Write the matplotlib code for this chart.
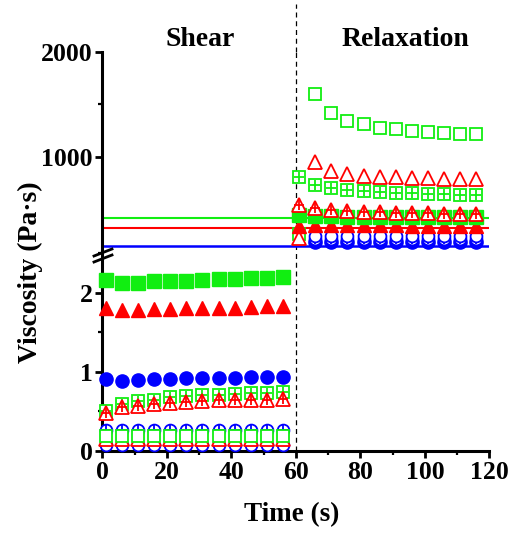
import numpy as np
import matplotlib
matplotlib.use("Agg")
import matplotlib.pyplot as plt
from matplotlib.lines import Line2D
from matplotlib.ticker import MultipleLocator

plt.rcParams['font.family'] = ['Liberation Serif', 'DejaVu Serif']
plt.rcParams['font.weight'] = 'bold'

# time points (s)
t_shear = [1, 6, 11, 16, 21, 26, 31, 36, 41, 46, 51, 56]
t_relax = [61, 66, 71, 76, 81, 86, 91, 96, 101, 106, 111, 116]

# shear phase viscosity (Pa·s), lower axis
shear_blue_fill = [0.91, 0.89, 0.90, 0.91, 0.91, 0.92, 0.92, 0.92, 0.92, 0.93, 0.93, 0.93]
shear_blue_open = [0.08, 0.08, 0.08, 0.08, 0.08, 0.08, 0.08, 0.08, 0.08, 0.08, 0.08, 0.08]
shear_blue_plus = [0.26, 0.26, 0.27, 0.27, 0.27, 0.27, 0.27, 0.27, 0.27, 0.27, 0.27, 0.27]
shear_red_fill = [1.80, 1.78, 1.78, 1.79, 1.79, 1.80, 1.80, 1.81, 1.81, 1.82, 1.83, 1.83]
shear_red_open = [0.15, 0.15, 0.15, 0.15, 0.15, 0.15, 0.15, 0.15, 0.15, 0.15, 0.15, 0.15]
shear_red_plus = [0.48, 0.55, 0.57, 0.59, 0.61, 0.62, 0.63, 0.64, 0.64, 0.65, 0.65, 0.66]
shear_green_fill = [2.16, 2.12, 2.12, 2.15, 2.15, 2.15, 2.16, 2.17, 2.17, 2.18, 2.18, 2.20]
shear_green_open = [0.19, 0.19, 0.19, 0.19, 0.19, 0.19, 0.19, 0.19, 0.19, 0.19, 0.19, 0.19]
shear_green_plus = [0.51, 0.59, 0.63, 0.65, 0.68, 0.69, 0.71, 0.71, 0.72, 0.73, 0.73, 0.75]

# relaxation phase viscosity (Pa·s), upper axis
relax_blue_fill = [np.nan, 190, 190, 190, 190, 190, 190, 190, 190, 190, 190, 190]
relax_blue_open = [np.nan, 245, 245, 245, 245, 245, 245, 245, 245, 245, 245, 245]
relax_blue_plus = [np.nan, 215, 215, 215, 215, 215, 215, 215, 215, 215, 215, 215]
relax_red_fill = [340, 348, 348, 347, 347, 346, 346, 345, 345, 345, 345, 345]
relax_red_open = [225, 953, 864, 832, 816, 810, 804, 800, 794, 791, 788, 785]
relax_red_plus = [540, 509, 492, 483, 478, 470, 465, 462, 460, 458, 456, 455]
relax_green_fill = [445, 438, 432, 430, 428, 427, 426, 425, 425, 424, 424, 423]
relax_green_open = [265, 1597, 1413, 1340, 1308, 1276, 1267, 1248, 1238, 1229, 1219, 1219]
relax_green_plus = [810, 730, 699, 683, 673, 661, 656, 651, 645, 641, 638, 632]

# reference levels in upper axis
ref_levels = {'green': 413, 'red': 318, 'blue': 152}

BLUE = '#0000ff'
RED = '#ff0000'
GREEN = '#11ee11'

fig = plt.figure(figsize=(5.13, 5.33), dpi=100)
ax_top = fig.add_axes([0.1998, 0.531, 0.754, 0.372])
ax_bot = fig.add_axes([0.1998, 0.1538, 0.754, 0.3715])


def draw(ax, x, y, color, kind, marker):
    if kind == 'fill':
        ax.plot(x, y, ls='none', marker=marker, ms=9.5 if marker != '^' else 10.5,
                mfc=color, mec=color, mew=1, clip_on=False, zorder=3)
    else:
        ax.plot(x, y, ls='none', marker=marker, ms=8.5 if marker != '^' else 10,
                mfc='white', mec=color, mew=1.3, clip_on=False, zorder=3)
        if kind == 'plus':
            ax.plot(x, y, ls='none', marker='+', ms=7, mec=color, mew=1.3,
                    clip_on=False, zorder=3)


for ax, data in [
    (ax_bot, [(t_shear, shear_blue_open, BLUE, 'open', 'o'),
              (t_shear, shear_blue_plus, BLUE, 'plus', 'o'),
              (t_shear, shear_red_open, RED, 'open', '^'),
              (t_shear, shear_green_open, GREEN, 'open', 's'),
              (t_shear, shear_green_plus, GREEN, 'plus', 's'),
              (t_shear, shear_red_plus, RED, 'plus', '^'),
              (t_shear, shear_blue_fill, BLUE, 'fill', 'o'),
              (t_shear, shear_red_fill, RED, 'fill', '^'),
              (t_shear, shear_green_fill, GREEN, 'fill', 's')]),
    (ax_top, [(t_relax, relax_green_open, GREEN, 'open', 's'),
              (t_relax, relax_red_open, RED, 'open', '^'),
              (t_relax, relax_green_plus, GREEN, 'plus', 's'),
              (t_relax, relax_blue_fill, BLUE, 'fill', 'o'),
              (t_relax, relax_blue_plus, BLUE, 'plus', 'o'),
              (t_relax, relax_blue_open, BLUE, 'open', 'o'),
              (t_relax, relax_red_fill, RED, 'fill', '^'),
              (t_relax, relax_green_fill, GREEN, 'fill', 's'),
              (t_relax, relax_red_plus, RED, 'plus', '^')]),
]:
    for x, y, c, kind, m in data:
        draw(ax, x, y, c, kind, m)

ax_top.axhline(ref_levels['green'], color=GREEN, lw=1.5, zorder=2)
ax_top.axhline(ref_levels['red'], color=RED, lw=1.5, zorder=2)
ax_top.axhline(ref_levels['blue'], color=BLUE, lw=1.8, zorder=2)

ax_top.set_ylim(112, 2000)
ax_bot.set_ylim(0, 2.5)
for ax in (ax_top, ax_bot):
    ax.set_xlim(0, 120)
    ax.spines['top'].set_visible(False)
    ax.spines['right'].set_visible(False)
    for s in ('left', 'bottom'):
        ax.spines[s].set_linewidth(2.2)
    ax.tick_params(which='major', length=5, width=2.0, labelsize=18.5, pad=2)
    ax.tick_params(which='minor', length=3, width=1.6)
    ax.axvline(60, color='black', ls=(0, (4, 3)), lw=0.9, zorder=1)

ax_top.spines['bottom'].set_visible(False)
ax_top.tick_params(axis='x', which='both', bottom=False, labelbottom=False)
ax_top.set_yticks([1000, 2000])
ax_top.yaxis.set_minor_locator(plt.FixedLocator([1500]))
ax_top.plot([60, 60], [2000, 2450], color='black', ls=(0, (4, 3)), lw=0.9,
            clip_on=False)

ax_bot.yaxis.set_major_locator(MultipleLocator(1))
ax_bot.yaxis.set_minor_locator(MultipleLocator(0.5))
ax_bot.xaxis.set_major_locator(MultipleLocator(20))
ax_bot.xaxis.set_minor_locator(MultipleLocator(10))
ax_bot.set_xlabel('Time (s)', fontsize=19.5, fontweight='bold')
ax_bot.xaxis.set_label_coords(0.489, -0.26)

# break marks on y axis
for dy in (0, 6):
    y0 = 1 - (256 + dy) / 533
    y1 = 1 - (249 + dy) / 533
    fig.add_artist(Line2D([94 / 513, 112 / 513], [y0, y1], color='black', lw=2.0))

fig.text(30 / 513, 1 - 272 / 533, 'Viscosity (Pa·s)', rotation=90, fontsize=20,
         fontweight='bold', ha='center', va='center')
fig.text(200 / 513, 1 - 40 / 533, 'Shear', fontsize=20, fontweight='bold',
         ha='center', va='center')
fig.text(405 / 513, 1 - 40 / 533, 'Relaxation', fontsize=20, fontweight='bold',
         ha='center', va='center')

fig.savefig('out.png', dpi=100)
